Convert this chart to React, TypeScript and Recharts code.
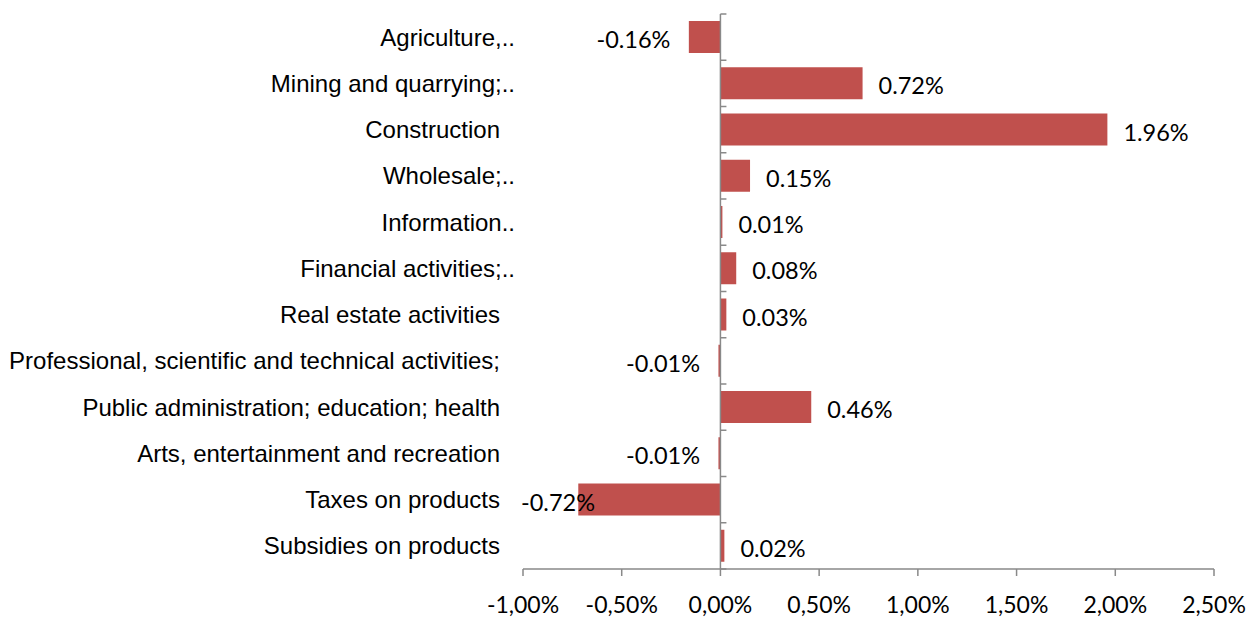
import React from "react";
import {
  BarChart,
  Bar,
  XAxis,
  YAxis,
  LabelList,
  ReferenceLine,
} from "recharts";

const categories = [
  "Agriculture,..",
  "Mining and quarrying;..",
  "Construction",
  "Wholesale;..",
  "Information..",
  "Financial activities;..",
  "Real estate activities",
  "Professional, scientific and technical activities;",
  "Public administration; education; health",
  "Arts, entertainment and recreation",
  "Taxes on products",
  "Subsidies on products",
];

const contributions = [
  -0.16, 0.72, 1.96, 0.15, 0.01, 0.08, 0.03, -0.01, 0.46, -0.01, -0.72, 0.02,
];

const xTicks = [-1, -0.5, 0, 0.5, 1, 1.5, 2, 2.5];

const data = categories.map((name, i) => ({ name, value: contributions[i] }));

const AXIS = "#898989";
const BAR = "#C0504D";
const PLOT_LEFT = 523;

const CategoryTick = (props: any) => {
  const { x, y, payload } = props;
  const label: string = payload.value;
  const shift = label.endsWith("..") ? 15 : 0;
  return (
    <text
      x={x + shift}
      y={y}
      textAnchor="end"
      dominantBaseline="central"
      fontFamily="'Liberation Sans', Arial, sans-serif"
      fontSize={24}
      fill="#000"
    >
      {label}
    </text>
  );
};

const ValueLabel = (props: any) => {
  const { x, y, width, height, value } = props;
  const text = `${Number(value).toFixed(2)}%`;
  const cy = y + height / 2 + 2;
  const left = Math.min(x, x + width);
  const right = Math.max(x, x + width);
  if (value >= 0) {
    return (
      <text
        x={right + 16}
        y={cy}
        textAnchor="start"
        dominantBaseline="central"
        fontFamily="Lato, sans-serif"
        fontSize={23.5}
        fill="#000"
      >
        {text}
      </text>
    );
  }
  const estW = text.length * 12.9;
  const startX = Math.max(left - 15 - estW, PLOT_LEFT - 2);
  return (
    <text
      x={startX}
      y={cy}
      textAnchor="start"
      dominantBaseline="central"
      fontFamily="Lato, sans-serif"
      fontSize={23.5}
      fill="#000"
    >
      {text}
    </text>
  );
};

const ZeroAxis = (props: any) => {
  const { x1, y1, x2, y2 } = props;
  const n = categories.length;
  const step = (y2 - y1) / n;
  const ticks = Array.from({ length: n + 1 }, (_, i) => y1 + i * step);
  return (
    <g>
      <line x1={x1} y1={y1} x2={x2} y2={y2} stroke={AXIS} strokeWidth={1.5} />
      {ticks.map((ty, i) => (
        <line
          key={i}
          x1={x1}
          y1={ty}
          x2={x1 + 6}
          y2={ty}
          stroke={AXIS}
          strokeWidth={1.5}
        />
      ))}
    </g>
  );
};

const App: React.FC = () => {
  return (
    <div style={{ position: "absolute", left: 0, top: 0 }}>
      <BarChart
        width={1249}
        height={621}
        data={data}
        layout="vertical"
        margin={{ top: 14, right: 35, bottom: 0, left: 0 }}
      >
        <XAxis
          type="number"
          domain={[-1, 2.5]}
          ticks={xTicks}
          height={52}
          tickFormatter={(v: number) => `${v.toFixed(2).replace(".", ",")}%`}
          axisLine={{ stroke: AXIS, strokeWidth: 1.5 }}
          tickLine={{ stroke: AXIS, strokeWidth: 1.5 }}
          tickSize={7}
          tickMargin={21}
          tick={{ fill: "#000", fontSize: 23, fontFamily: "Lato, sans-serif" }}
          allowDataOverflow
        />
        <YAxis
          type="category"
          dataKey="name"
          width={PLOT_LEFT}
          axisLine={false}
          tickLine={false}
          tickSize={0}
          tickMargin={23}
          tick={<CategoryTick />}
          interval={0}
        />
        <Bar
          dataKey="value"
          fill={BAR}
          barSize={32}
          isAnimationActive={false}
        >
          <LabelList dataKey="value" content={<ValueLabel />} />
        </Bar>
        <ReferenceLine x={0} shape={<ZeroAxis />} />
      </BarChart>
    </div>
  );
};

export default App;
